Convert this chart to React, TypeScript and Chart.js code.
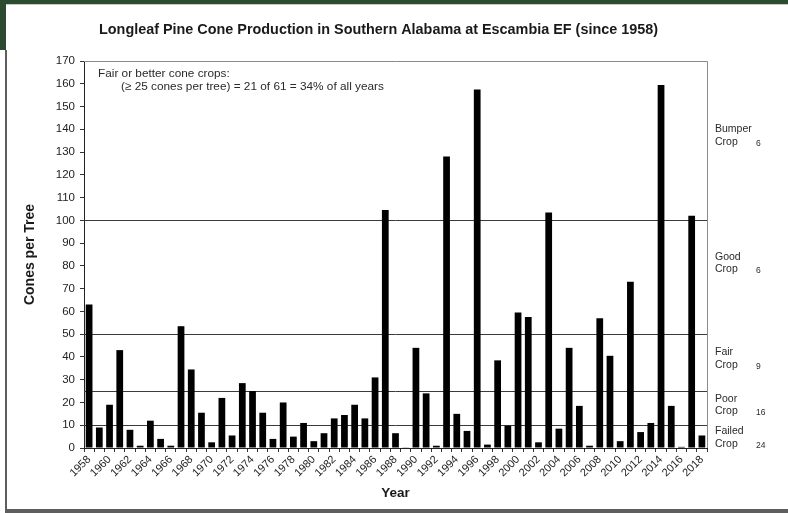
import { useEffect, useRef } from 'react';
import { Chart, registerables } from 'chart.js';

Chart.register(...registerables);

const years = [
  '1958', '1959', '1960', '1961', '1962', '1963', '1964', '1965', '1966', '1967',
  '1968', '1969', '1970', '1971', '1972', '1973', '1974', '1975', '1976', '1977',
  '1978', '1979', '1980', '1981', '1982', '1983', '1984', '1985', '1986', '1987',
  '1988', '1989', '1990', '1991', '1992', '1993', '1994', '1995', '1996', '1997',
  '1998', '1999', '2000', '2001', '2002', '2003', '2004', '2005', '2006', '2007',
  '2008', '2009', '2010', '2011', '2012', '2013', '2014', '2015', '2016', '2017',
  '2018',
];

const cones = [
  63, 9, 19, 43, 8, 1, 12, 4, 1, 53.5,
  34.5, 15.5, 2.5, 22, 5.5, 28.5, 25, 15.5, 4, 20,
  5, 11, 3, 6.5, 13, 14.5, 19, 13, 31, 104.5,
  6.5, 0.3, 44, 24, 1, 128, 15, 7.5, 157.5, 1.5,
  38.5, 9.8, 59.5, 57.5, 2.5, 103.5, 8.5, 44, 18.5, 1,
  57, 40.5, 3, 73, 7, 11, 159.5, 18.5, 0.5, 102,
  5.5,
];

const thresholds = [10, 25, 50, 100];

const cropNames = ['Bumper', 'Good', 'Fair', 'Poor', 'Failed'];
const cropCounts = ['6', '6', '9', '16', '24'];

const titleText = 'Longleaf Pine Cone Production in Southern Alabama at Escambia EF (since 1958)';
const noteLine1 = 'Fair or better cone crops:';
const noteLine2 = '(\u2265 25 cones per tree) = 21 of 61 = 34% of all years';

// layout (value positions of the "Crop" line of each side label)
const cropLabelAnchor = [134.5, 78.5, 36.5, 16.2, 1.8];

const FONT = "'Liberation Sans', Arial, sans-serif";

const decorPlugin = {
  id: 'decor',
  beforeDraw(chart: any) {
    const { ctx, width, height } = chart;
    ctx.save();
    ctx.fillStyle = '#ffffff';
    ctx.fillRect(0, 0, width, height);
    // page frame
    ctx.fillStyle = '#2c4a30';
    ctx.fillRect(0, 0, width, 4);
    ctx.fillRect(0, 0, 6, 50);
    ctx.fillStyle = '#5e5e5e';
    ctx.fillRect(5, 50, 2, height - 50);
    ctx.fillRect(5, height - 4, width - 5, 4);
    ctx.fillStyle = '#c8c8c8';
    ctx.fillRect(6, 4, width - 6, 1);
    ctx.restore();
  },
  beforeDatasetsDraw(chart: any) {
    const { ctx, chartArea } = chart;
    const y = chart.scales.y;
    ctx.save();
    // plot frame (top / right)
    ctx.strokeStyle = '#8a8a8a';
    ctx.lineWidth = 1;
    ctx.beginPath();
    ctx.moveTo(chartArea.left, Math.round(chartArea.top) + 0.5);
    ctx.lineTo(Math.round(chartArea.right) + 0.5, Math.round(chartArea.top) + 0.5);
    ctx.lineTo(Math.round(chartArea.right) + 0.5, chartArea.bottom);
    ctx.stroke();
    // threshold lines
    ctx.strokeStyle = '#3a3a3a';
    thresholds.forEach((t) => {
      const py = Math.round(y.getPixelForValue(t)) + 0.5;
      ctx.beginPath();
      ctx.moveTo(chartArea.left, py);
      ctx.lineTo(chartArea.right, py);
      ctx.stroke();
    });
    ctx.restore();
  },
  afterDraw(chart: any) {
    const { ctx, chartArea } = chart;
    const y = chart.scales.y;
    ctx.save();
    // title
    ctx.fillStyle = '#1a1a1a';
    ctx.font = `bold 14.4px ${FONT}`;
    ctx.textAlign = 'center';
    ctx.textBaseline = 'middle';
    ctx.fillText(titleText, 378.5, 30);
    // note
    ctx.fillStyle = '#2a2a2a';
    ctx.font = `11.8px ${FONT}`;
    ctx.textAlign = 'left';
    ctx.fillText(noteLine1, chartArea.left + 14, chartArea.top + 12.5);
    ctx.fillText(noteLine2, chartArea.left + 37, chartArea.top + 25.5);
    // crop labels
    const lx = chartArea.right + 8;
    cropNames.forEach((name, i) => {
      const py = y.getPixelForValue(cropLabelAnchor[i]);
      ctx.fillStyle = '#2a2a2a';
      ctx.font = `10.5px ${FONT}`;
      ctx.fillText(name, lx, py - 12.5);
      ctx.fillText('Crop', lx, py);
      ctx.font = `8.5px ${FONT}`;
      ctx.fillText(cropCounts[i], lx + 41, py + 1.5);
    });
    ctx.restore();
  },
};

export default function App() {
  const ref = useRef<HTMLCanvasElement | null>(null);

  useEffect(() => {
    if (!ref.current) return;
    const chart = new Chart(ref.current, {
      type: 'bar',
      data: {
        labels: years,
        datasets: [
          {
            data: cones,
            backgroundColor: '#000000',
            borderWidth: 0,
            categoryPercentage: 1,
            barPercentage: 0.66,
          },
        ],
      },
      options: {
        responsive: false,
        animation: false,
        devicePixelRatio: 1,
        layout: { padding: { top: 61, right: 81, left: 0, bottom: 0 } },
        plugins: {
          legend: { display: false },
          tooltip: { enabled: false },
          title: { display: false },
        },
        scales: {
          x: {
            type: 'category',
            offset: true,
            grid: {
              display: true,
              drawOnChartArea: false,
              tickLength: 4,
              color: '#333333',
              offset: true,
            },
            border: { display: true, color: '#222222' },
            ticks: {
              autoSkip: false,
              minRotation: 45,
              maxRotation: 45,
              padding: 1,
              color: '#222222',
              font: { family: FONT, size: 11 },
              callback: (_v: any, i: number) => (i % 2 === 0 ? years[i] : ''),
            },
            title: {
              display: true,
              text: 'Year',
              color: '#1a1a1a',
              font: { family: FONT, size: 13.5, weight: 'bold' },
              padding: { top: 0, bottom: 12 },
            },
            afterFit: (s: any) => {
              s.height = 65;
            },
          },
          y: {
            min: 0,
            max: 170,
            grid: {
              display: true,
              drawOnChartArea: false,
              tickLength: 4,
              color: '#333333',
            },
            border: { display: true, color: '#222222' },
            ticks: {
              stepSize: 10,
              padding: 5,
              color: '#222222',
              font: { family: FONT, size: 11.5 },
            },
            title: {
              display: true,
              text: 'Cones per Tree',
              color: '#1a1a1a',
              font: { family: FONT, size: 14, weight: 'bold' },
              padding: { top: 21.5, bottom: 0 },
            },
            afterFit: (s: any) => {
              s.width = 84;
            },
          },
        },
      },
      plugins: [decorPlugin],
    } as any);
    return () => chart.destroy();
  }, []);

  return (
    <div style={{ position: 'absolute', left: 0, top: 0, width: 788, height: 513 }}>
      <canvas ref={ref} width={788} height={513} style={{ display: 'block' }} />
    </div>
  );
}
